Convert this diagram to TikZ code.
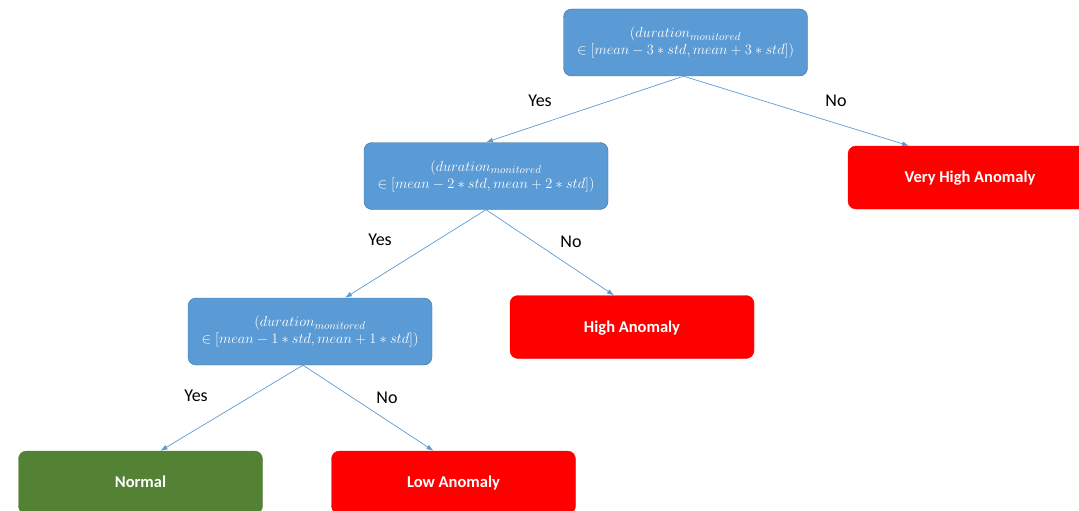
\documentclass[tikz,border=0pt]{standalone}
\usepackage{fontspec}
\setmainfont{Carlito}
\usetikzlibrary{arrows.meta}
\definecolor{testblue}{HTML}{5B9BD5}
\definecolor{testedge}{HTML}{41719C}
\definecolor{anomred}{HTML}{FF0000}
\definecolor{normgreen}{HTML}{548235}
\tikzset{
  testbox/.style={draw=testedge, fill=testblue, rounded corners=8pt, minimum width=244pt, minimum height=67pt, inner sep=0pt, align=center, text=white, font=\fontsize{15.5}{17}\selectfont},
  leafbox/.style={rounded corners=8pt, minimum width=244pt, minimum height=63pt, inner sep=0pt, text height=1em, text depth=0em, text=white, font=\fontsize{16.5}{18}\selectfont\bfseries},
  branch/.style={font=\fontsize{18}{20}\selectfont},
  edge/.style={draw=testblue, -{Latex[length=7pt,width=5pt]}, line width=0.7pt}
}
\begin{document}
\begin{tikzpicture}[x=1pt, y=-1pt]
\useasboundingbox (0,0) rectangle (1079,511);
\node[testbox] (t3) at (685.5,42.5) {$(duration_{monitored}$\\$\in [mean-3\ast std, mean+3\ast std])$};
\node[testbox] (t2) at (486,176) {$(duration_{monitored}$\\$\in [mean-2\ast std, mean+2\ast std])$};
\node[testbox] (t1) at (310,331.5) {$(duration_{monitored}$\\$\in [mean-1\ast std, mean+1\ast std])$};

\node[leafbox, draw=anomred, fill=anomred] (veryhigh) at (970,177.5) {Very High Anomaly};
\node[leafbox, draw=anomred, fill=anomred] (high) at (632,327) {High Anomaly};
\node[leafbox, draw=normgreen, fill=normgreen] (normal) at (140.5,482.5) {Normal};
\node[leafbox, draw=anomred, fill=anomred] (low) at (453.5,482.5) {Low Anomaly};

\draw[edge] ([xshift=-2pt]t3.south) -- (t2.north);
\draw[edge] ([xshift=-2pt]t3.south) -- ([xshift=-61pt]veryhigh.north);
\draw[edge] (t2.south) -- ([xshift=35pt]t1.north);
\draw[edge] (t2.south) -- ([xshift=-18pt]high.north);
\draw[edge] ([xshift=-7pt]t1.south) -- ([xshift=20pt]normal.north);
\draw[edge] ([xshift=-7pt]t1.south) -- ([xshift=-20pt]low.north);

\node[branch] (y3) at (540,101) {Yes};
\node[branch] (n3) at (836,101) {No};
\node[branch] (y2) at (380,240) {Yes};
\node[branch] (n2) at (571,242) {No};
\node[branch] (y1) at (196,396) {Yes};
\node[branch] (n1) at (387,398) {No};
\end{tikzpicture}
\end{document}
